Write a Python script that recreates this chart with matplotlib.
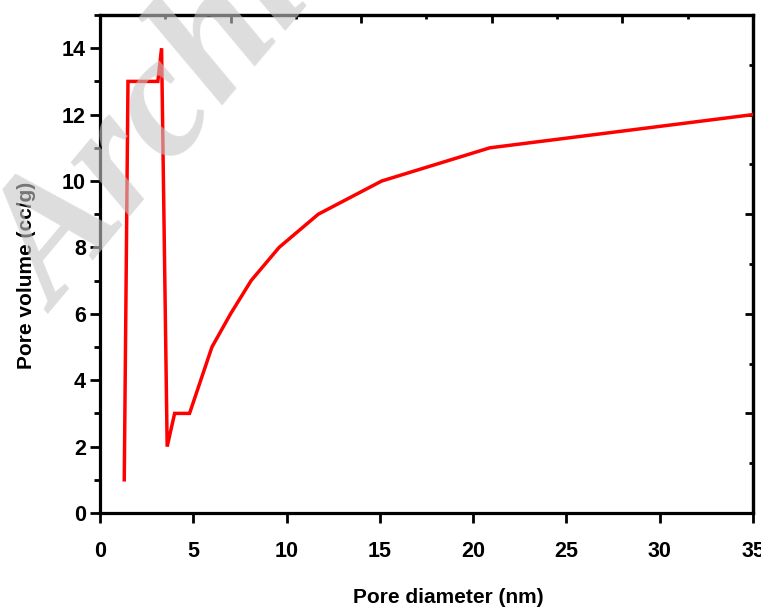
import matplotlib
matplotlib.use("Agg")
import matplotlib.pyplot as plt
from matplotlib.ticker import MultipleLocator

# ---- data ----
pore_diameter = [1.3, 1.5, 3.1, 3.3, 3.6, 4.0, 4.8, 6.0, 7.0, 8.1, 9.6, 11.7, 15.1, 20.9, 35.0]
pore_volume = [1, 13, 13, 14, 2, 3, 3, 5, 6, 7, 8, 9, 10, 11, 12]
x_ticks = [0, 5, 10, 15, 20, 25, 30, 35]
y_ticks = [0, 2, 4, 6, 8, 10, 12, 14]
x_label = "Pore diameter (nm)"
y_label = "Pore volume (cc/g)"

plt.rcParams['font.family'] = ['Liberation Sans', 'DejaVu Sans']

fig = plt.figure(figsize=(7.61, 6.07), dpi=100)
ax = fig.add_axes([100/761, 1-513/607, 653/761, 498/607])

ax.plot(pore_diameter, pore_volume, color='#ff0000', lw=2.5, solid_joinstyle='miter', zorder=3)

ax.set_xlim(0, 35)
ax.set_ylim(0, 15)
ax.set_xticks(x_ticks)
ax.set_yticks(y_ticks)
ax.yaxis.set_minor_locator(MultipleLocator(1))
ax.tick_params(axis='x', which='major', direction='out', length=7, width=2, pad=13,
               labelsize=15.5, top=False)
ax.tick_params(axis='y', which='major', direction='out', length=7, width=2, pad=3,
               labelsize=15.5, right=False)
ax.tick_params(axis='y', which='minor', direction='out', length=4, width=2, right=False)
for lab in ax.get_xticklabels() + ax.get_yticklabels():
    lab.set_fontweight('bold')
for sp in ax.spines.values():
    sp.set_linewidth(2.3)

# top and right axes with their own inward ticks
top = ax.secondary_xaxis('top')
top.xaxis.set_major_locator(MultipleLocator(7))
top.xaxis.set_minor_locator(MultipleLocator(3.5))
top.tick_params(which='major', direction='in', length=6, width=2, labeltop=False)
top.tick_params(which='minor', direction='in', length=3, width=2)
top.spines['top'].set_linewidth(2.3)

right = ax.secondary_yaxis('right')
right.yaxis.set_major_locator(MultipleLocator(3))
right.yaxis.set_minor_locator(MultipleLocator(1.5))
right.tick_params(which='major', direction='in', length=6, width=2, labelright=False)
right.tick_params(which='minor', direction='in', length=3, width=2)
right.spines['right'].set_linewidth(2.3)

ax.set_xlabel(x_label, fontsize=15, fontweight='bold', va='center')
ax.xaxis.set_label_coords(0.533, -0.169)
ax.set_ylabel(y_label, fontsize=15, fontweight='bold', va='center')
ax.yaxis.set_label_coords(-0.112, 0.478)

# watermark
fig.text(205/761, 1-72/607, "Archive", fontsize=125, family='Liberation Serif',
         fontweight='bold', style='italic', color=(0.78, 0.78, 0.78), alpha=0.6,
         rotation=50, rotation_mode='anchor', ha='center', va='center', zorder=10)

fig.savefig("out.png", dpi=100)
